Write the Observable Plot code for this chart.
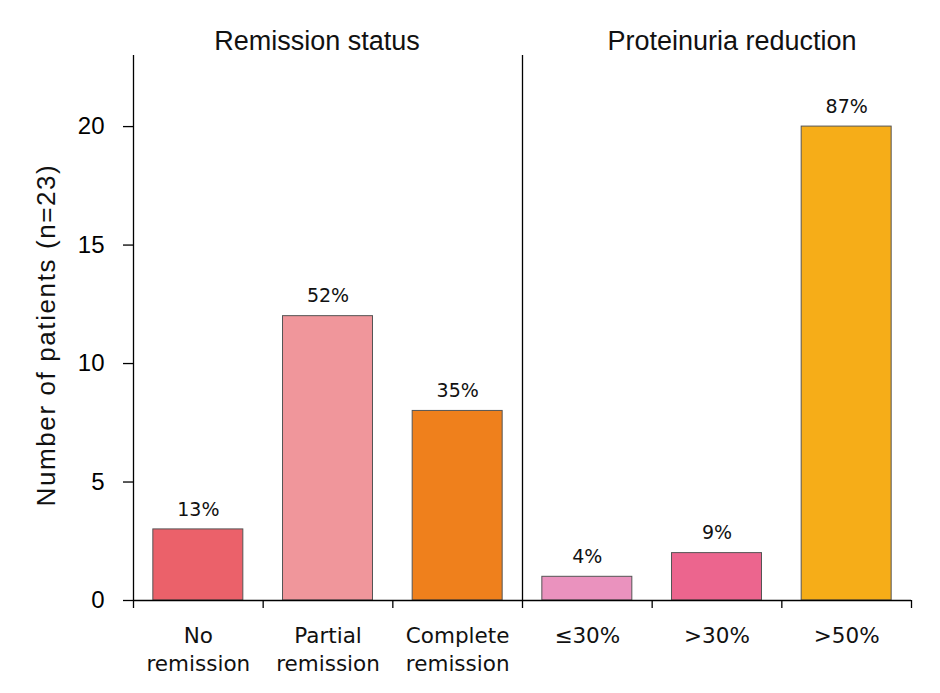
<!DOCTYPE html>
<html>
<head>
<meta charset="utf-8">
<script src="https://cdn.jsdelivr.net/npm/d3@7"></script>
<script src="https://cdn.jsdelivr.net/npm/@observablehq/plot@0.6"></script>
<style>
  html, body { margin: 0; padding: 0; background: #fff; }
  svg { display: block; }
</style>
</head>
<body>
<div id="chart"></div>
<script>
const categories = ["No\nremission", "Partial\nremission", "Complete\nremission", "≤30%", ">30%", ">50%"];
const counts = [3, 12, 8, 1, 2, 20];
const percents = ["13%", "52%", "35%", "4%", "9%", "87%"];
const colors = ["#EB616A", "#F0969B", "#EF801C", "#EA92BE", "#EC658E", "#F6AD18"];
const groups = ["Remission status", "Proteinuria reduction"];
const groupSizes = [3, 3];
const yTicks = [0, 5, 10, 15, 20];

const data = categories.map((c, i) => ({
  label: c, index: i, count: counts[i], pct: percents[i], color: colors[i]
}));
let start = 0;
const groupData = groups.map((g, j) => {
  const d = {name: g, x1: start, x2: start + groupSizes[j]};
  start += groupSizes[j];
  return d;
});
const n = categories.length;
const pad = 0.153;
const font = "'Liberation Sans', Arial, sans-serif";
const font2 = "'DejaVu Sans', sans-serif";

const chart = Plot.plot({
  width: 940,
  height: 693,
  marginLeft: 133,
  marginRight: 29,
  marginTop: 55,
  marginBottom: 93,
  style: {fontFamily: font, background: "#fff", color: "#000"},
  x: {type: "linear", domain: [0, n], axis: null},
  y: {domain: [0, 23], axis: null},
  marks: [
    Plot.rectY(data, {
      x1: d => d.index + pad, x2: d => d.index + 1 - pad,
      y1: 0, y2: "count",
      fill: "color", stroke: "#555", strokeWidth: 1
    }),
    Plot.text(data, {
      x: d => d.index + 0.5, y: "count", text: "pct",
      dy: -20, lineAnchor: "middle", fontSize: 19, fill: "#111", fontFamily: font2
    }),
    Plot.text(data, {
      x: d => d.index + 0.5, y: 0, text: "label",
      dy: 23, lineAnchor: "top", lineHeight: 1.3, fontSize: 21.5, fill: "#111", fontFamily: font2
    }),
    Plot.text(groupData.slice(0, 1), {
      x: d => (d.x1 + d.x2) / 2, y: 23, text: "name",
      dx: -11, dy: -14, lineAnchor: "middle", fontSize: 27, fill: "#111"
    }),
    Plot.text(groupData.slice(1), {
      x: d => (d.x1 + d.x2) / 2, y: 23, text: "name",
      dx: 15, dy: -14, lineAnchor: "middle", fontSize: 27, fill: "#111"
    }),
    Plot.ruleX(groupData.slice(1), {x: "x1", y1: 0, y2: 23, stroke: "#000", strokeWidth: 1.3}),
    Plot.ruleX([0], {y1: 0, y2: 23, stroke: "#000", strokeWidth: 1.3}),
    Plot.ruleY([0], {x1: 0, x2: n, stroke: "#000", strokeWidth: 1.3}),
    Plot.axisY({ticks: yTicks, tickSize: 10, tickPadding: 19, fontSize: 24, tickFormat: d3.format("d"), label: null, strokeWidth: 1.3}),
    Plot.axisX({ticks: d3.range(0, n + 1), tickSize: 8, tickFormat: () => "", label: null, strokeWidth: 1.3}),
    Plot.text(["Number of patients (n=23)"], {
      frameAnchor: "left", textAnchor: "middle", dx: -87, dy: 7, rotate: -90,
      fontSize: 26, fill: "#111", lineAnchor: "middle", className: "ylabel"
    })
  ]
});
d3.select(chart).selectAll(".ylabel text").style("letter-spacing", "1.6px");
document.getElementById("chart").append(chart);
</script>
</body>
</html>
